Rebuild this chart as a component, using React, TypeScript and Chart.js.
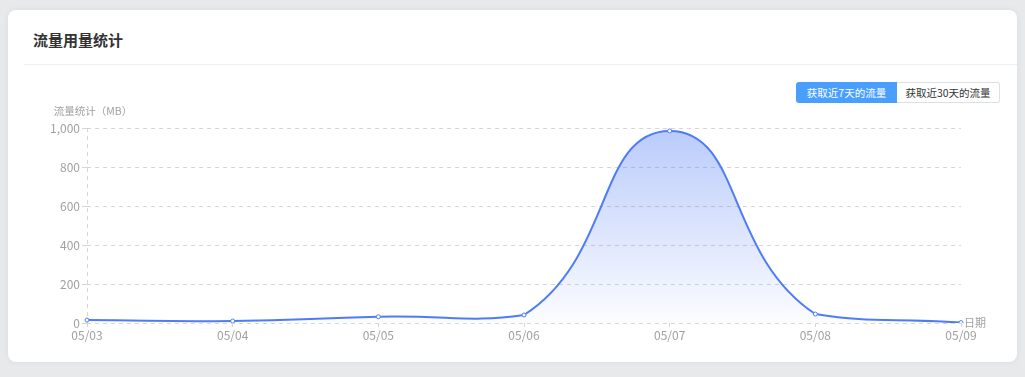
import React, { useEffect, useRef } from "react";
import { Chart, registerables } from "chart.js";

Chart.register(...registerables);

const categories = ["05/03", "05/04", "05/05", "05/06", "05/07", "05/08", "05/09"];
const trafficMB = [15, 10, 32, 41, 985, 46, 2];
const yTicks = [0, 200, 400, 600, 800, 1000];
const yAxisName = "流量统计（MB）";
const xAxisName = "日期";
const title = "流量用量统计";
const buttonLabels = ["获取近7天的流量", "获取近30天的流量"];

const FONT = '"Noto Sans CJK SC", "Noto Sans", sans-serif';
const LINE = "#4f7cf5";
const GRAY = "#a0a0a0";
const GRID = "#d6d6d6";

const axisNamePlugin = {
  id: "axisNames",
  afterDraw(chart: any) {
    const { ctx, chartArea } = chart;
    ctx.save();
    ctx.fillStyle = GRAY;
    ctx.font = `10.5px ${FONT}`;
    ctx.textBaseline = "middle";
    ctx.textAlign = "center";
    ctx.fillText(yAxisName, chartArea.left + 6, chartArea.top - 17);
    ctx.font = `11px ${FONT}`;
    ctx.textAlign = "left";
    ctx.fillText(xAxisName, chartArea.right + 3, chartArea.bottom);
    ctx.restore();
  },
};

export default function App() {
  const ref = useRef<HTMLCanvasElement>(null);

  useEffect(() => {
    const canvas = ref.current!;
    const chart = new Chart(canvas, {
      type: "line",
      data: {
        labels: categories,
        datasets: [
          {
            data: trafficMB,
            borderColor: LINE,
            borderWidth: 2,
            tension: 0.5,
            fill: "origin",
            backgroundColor: (c: any) => {
              const area = c.chart.chartArea;
              if (!area) return "rgba(80,125,245,0.3)";
              const g = c.chart.ctx.createLinearGradient(0, area.top, 0, area.bottom);
              g.addColorStop(0, "rgba(80,125,245,0.40)");
              g.addColorStop(1, "rgba(80,125,245,0.02)");
              return g;
            },
            pointRadius: 2,
            pointBorderWidth: 1,
            pointBackgroundColor: "#ffffff",
            pointBorderColor: LINE,
          },
        ],
      },
      options: {
        animation: false,
        responsive: false,
        maintainAspectRatio: false,
        layout: { padding: { left: 0, right: 39, top: 33, bottom: 0 } },
        plugins: { legend: { display: false }, tooltip: { enabled: false } },
        scales: {
          x: {
            offset: false,
            border: { display: false, dash: [4, 4] },
            grid: {
              display: true,
              drawOnChartArea: true,
              color: (c: any) => (c.index === 0 ? GRID : "rgba(0,0,0,0)"),
              tickColor: GRID,
              tickLength: 4,
              tickBorderDash: [],
            },
            ticks: {
              color: GRAY,
              padding: 1,
              font: { family: FONT, size: 12 },
              maxRotation: 0,
              autoSkip: false,
            },
            afterFit: (s: any) => {
              s.height = 32;
            },
          },
          y: {
            min: 0,
            max: 1000,
            border: { display: false, dash: [4, 4] },
            grid: {
              color: GRID,
              tickColor: GRID,
              tickLength: 5,
              tickBorderDash: [],
            },
            afterBuildTicks: (s: any) => {
              s.ticks = yTicks.map((v) => ({ value: v }));
            },
            ticks: {
              color: GRAY,
              padding: 2,
              font: { family: FONT, size: 12 },
              callback: (v: any) => Number(v).toLocaleString("en-US"),
            },
            afterFit: (s: any) => {
              s.width = 63;
            },
          },
        },
      },
      plugins: [axisNamePlugin],
    });
    return () => chart.destroy();
  }, []);

  return (
    <div
      style={{
        position: "fixed",
        left: 0,
        top: 0,
        width: 1025,
        height: 377,
        background: "#e8e9eb",
        fontFamily: FONT,
        overflow: "hidden",
      }}
    >
      <div
        style={{
          position: "absolute",
          left: 8,
          top: 10,
          width: 1009,
          height: 352,
          background: "#ffffff",
          borderRadius: 8,
          boxShadow: "0 0 6px rgba(0,0,0,0.06)",
        }}
      >
        <div
          style={{
            position: "absolute",
            left: 25,
            top: 18,
            fontSize: 15,
            fontWeight: 700,
            color: "#333333",
            lineHeight: "24px",
          }}
        >
          {title}
        </div>
        <div
          style={{
            position: "absolute",
            left: 16,
            right: 0,
            top: 54,
            height: 1,
            background: "#eceef2",
          }}
        />
        <div
          style={{
            position: "absolute",
            left: 788,
            top: 72,
            display: "flex",
            height: 21,
          }}
        >
          <div
            style={{
              width: 101,
              height: 21,
              background: "#4a9ffe",
              color: "#ffffff",
              fontSize: 10.5,
              lineHeight: "21px",
              textAlign: "center",
              borderRadius: "3px 0 0 3px",
              boxSizing: "border-box",
            }}
          >
            {buttonLabels[0]}
          </div>
          <div
            style={{
              width: 103,
              height: 21,
              background: "#ffffff",
              color: "#333333",
              fontSize: 10.5,
              lineHeight: "19px",
              textAlign: "center",
              border: "1px solid #dcdfe6",
              borderLeft: "none",
              borderRadius: "0 3px 3px 0",
              boxSizing: "border-box",
            }}
          >
            {buttonLabels[1]}
          </div>
        </div>
        <canvas
          ref={ref}
          width={976}
          height={260}
          style={{ position: "absolute", left: 16, top: 85, width: 976, height: 260 }}
        />
      </div>
    </div>
  );
}
